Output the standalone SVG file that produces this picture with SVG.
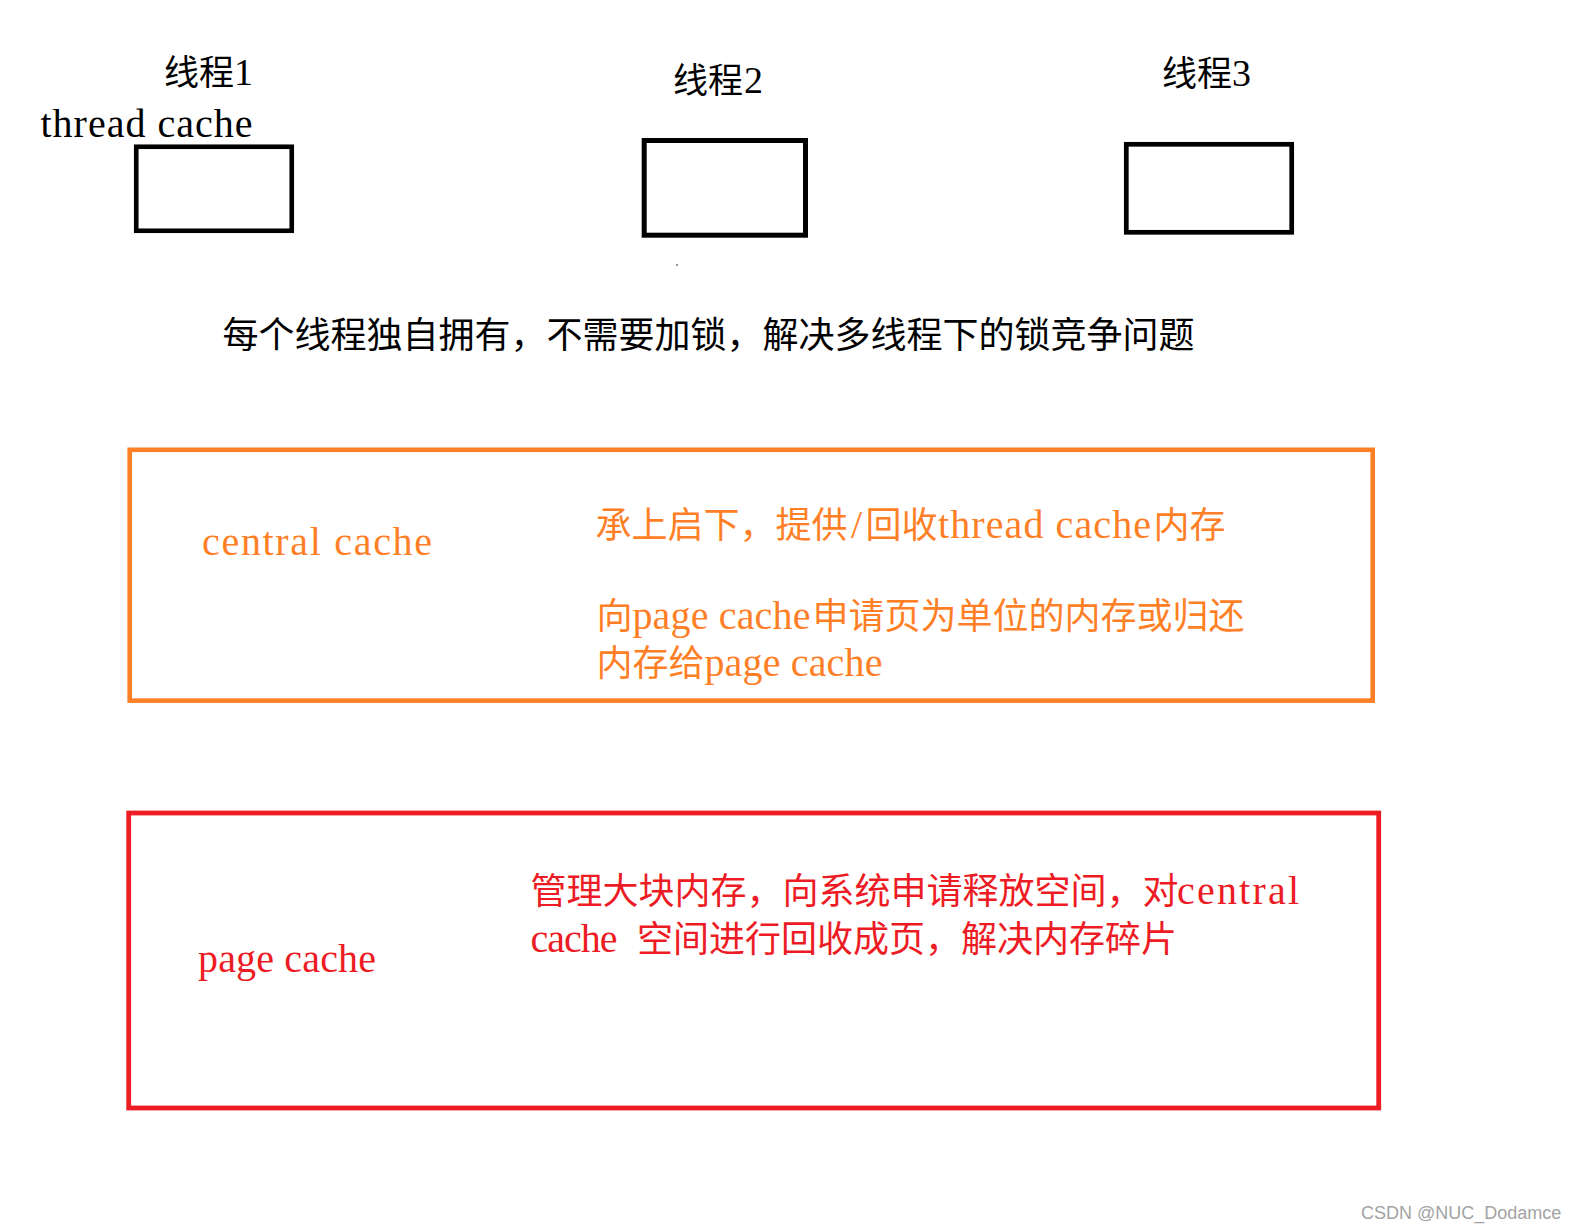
<svg xmlns="http://www.w3.org/2000/svg" width="1577" height="1232" viewBox="0 0 1577 1232">
<style>
.cjk{font-family:"Noto Sans CJK SC","Noto Sans CJK JP",sans-serif;font-size:36px}
.cjkt{font-family:"Noto Sans CJK SC","Noto Sans CJK JP",sans-serif;font-size:35px}
.lat{font-family:"Liberation Serif","Noto Sans CJK SC",serif;font-size:40px}
.dig{font-family:"Liberation Serif","Noto Sans CJK SC",serif;font-size:38px}
.blk{fill:#000}
.org{fill:#FF7F27}
.red{fill:#ED1C24}
.tbox{fill:none;stroke:#000}
.wm{font-family:"Liberation Sans",Arial,sans-serif;font-size:18px;fill:#a3a3a3}
</style>
<rect x="0" y="0" width="1577" height="1232" fill="#fff"/>
<g id="connectors"></g>
<g id="thread1">
<text class="blk" y="84.5"><tspan class="cjkt" x="164">线程</tspan><tspan class="dig" x="234">1</tspan></text>
<rect class="tbox" x="136.25" y="146.75" width="155.5" height="84" stroke-width="4.6"/>
</g>
<g id="thread-cache-label">
<text class="lat blk" x="40.5" y="137" textLength="212" lengthAdjust="spacing">thread cache</text>
</g>
<g id="thread2">
<text class="blk" y="93"><tspan class="cjkt" x="673">线程</tspan><tspan class="dig" x="744">2</tspan></text>
<rect class="tbox" x="644.2" y="140.5" width="161.3" height="94.7" stroke-width="5"/>
<circle cx="677" cy="265" r="0.9" fill="#666"/>
</g>
<g id="thread3">
<text class="blk" y="85.5"><tspan class="cjkt" x="1162">线程</tspan><tspan class="dig" x="1232">3</tspan></text>
<rect class="tbox" x="1126.3" y="144.3" width="165.4" height="88" stroke-width="4.7"/>
</g>
<g id="thread-note">
<text class="cjk blk" x="222.5" y="348">每个线程独自拥有，不需要加锁，解决多线程下的锁竞争问题</text>
</g>
<g id="central-cache">
<rect x="129.7" y="449.8" width="1243" height="250.8" fill="none" stroke="#FF7F27" stroke-width="4.6"/>
<text class="lat org" x="202" y="555" textLength="230" lengthAdjust="spacing">central cache</text>
<text class="org" y="537.5"><tspan class="cjk" x="595.4">承上启下，提供</tspan><tspan class="lat" x="851">/</tspan><tspan class="cjk" x="865.4">回收</tspan><tspan class="lat" x="938" textLength="213" lengthAdjust="spacing">thread cache</tspan><tspan class="cjk" x="1153.4">内存</tspan></text>
<text class="org" y="628.5"><tspan class="cjk" x="596.4">向</tspan><tspan class="lat" x="632.4" textLength="178" lengthAdjust="spacing">page cache</tspan><tspan class="cjk" x="812.4">申请页为单位的内存或归还</tspan></text>
<text class="org" y="675.5"><tspan class="cjk" x="596.4">内存给</tspan><tspan class="lat" x="704.4" textLength="178" lengthAdjust="spacing">page cache</tspan></text>
</g>
<g id="page-cache">
<rect x="128.7" y="813" width="1250" height="295" fill="none" stroke="#ED1C24" stroke-width="4.8"/>
<text class="lat red" x="198" y="971.5" textLength="178" lengthAdjust="spacing">page cache</text>
<text class="red" y="904"><tspan class="cjk" x="530.5">管理大块内存，向系统申请释放空间，对</tspan><tspan class="lat" x="1177" textLength="122" lengthAdjust="spacing">central</tspan></text>
<text class="red" y="951.5"><tspan class="lat" x="530.5" textLength="87" lengthAdjust="spacing">cache</tspan><tspan class="cjk" x="637">空间进行回收成页，解决内存碎片</tspan></text>
</g>
<text class="wm" x="1361" y="1219">CSDN @NUC_Dodamce</text>
</svg>
